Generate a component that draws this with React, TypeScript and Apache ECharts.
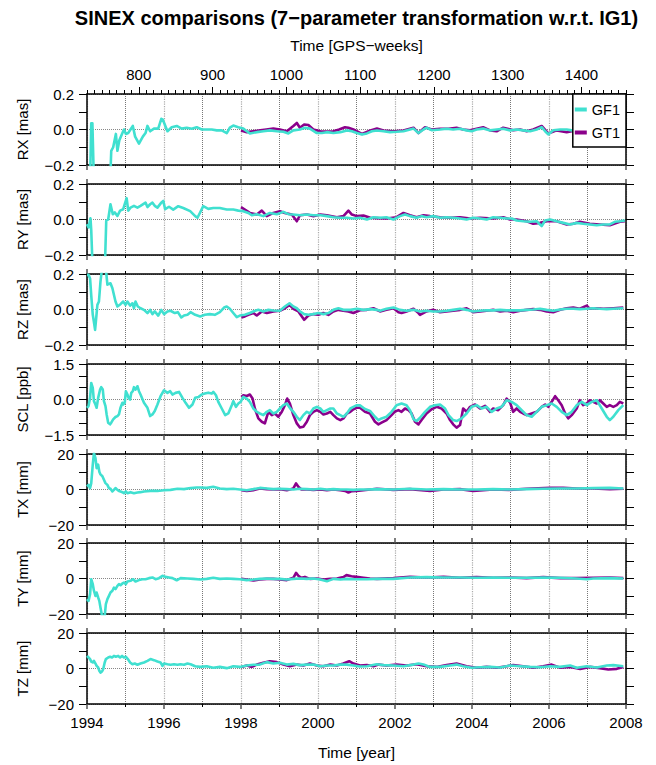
import React, { useEffect, useRef } from 'react';
import * as echarts from 'echarts';

// ---------------- data ----------------
const panelNames = ['RX [mas]', 'RY [mas]', 'RZ [mas]', 'SCL [ppb]', 'TX [mm]', 'TY [mm]', 'TZ [mm]'];
const yMins = [-0.2, -0.2, -0.2, -1.5, -20, -20, -20];
const yMaxs = [0.2, 0.2, 0.2, 1.5, 20, 20, 20];
const ySteps = [0.1, 0.1, 0.1, 0.5, 10, 10, 10];
const yLabelValues = [
  [-0.2, 0, 0.2], [-0.2, 0, 0.2], [-0.2, 0, 0.2], [-1.5, 0, 1.5], [-20, 0, 20], [-20, 0, 20], [-20, 0, 20],
];
const yDecimals = [1, 1, 1, 1, 0, 0, 0];
const yearMin = 1994;
const yearMax = 2008;
const gpsWeekMin = 729.857; // 1994-01-01
const gpsWeekMax = 1460.286; // 2008-01-01
const gpsLabelWeeks = [800, 900, 1000, 1100, 1200, 1300, 1400];
const gpsMinorWeeks: number[] = [];
for (let w = 730; w <= 1460; w += 10) gpsMinorWeeks.push(w);

const seriesNames = ['GF1', 'GT1'];

type P = [number, number][];

const rxGF1: P = [[1994.00,-0.30],[1994.08,-0.30],[1994.11,0.035],[1994.14,0.035],[1994.18,-0.30],[1994.60,-0.30],[1994.63,-0.12],[1994.68,-0.10],[1994.75,-0.025],[1994.79,-0.12],[1994.84,-0.06],[1994.92,-0.02],[1994.96,0.0],[1995.01,-0.025],[1995.07,-0.02],[1995.13,0.0],[1995.19,0.02],[1995.25,-0.04],[1995.35,-0.08],[1995.45,-0.04],[1995.52,-0.02],[1995.57,0.02],[1995.64,-0.01],[1995.74,0.005],[1995.85,0.005],[1995.93,0.06],[1995.97,0.055],[1996.09,-0.01],[1996.20,0.013],[1996.33,0.02],[1996.46,0.005],[1996.59,0.01],[1996.72,0.004],[1996.85,0.013],[1996.98,0.0],[1997.11,0.0],[1997.24,0.0],[1997.37,-0.005],[1997.50,-0.005],[1997.63,-0.02],[1997.71,0.01],[1997.80,0.022],[1997.93,0.013],[1998.06,0.005],[1998.15,-0.01],[1998.23,-0.022],[1998.41,-0.015],[1998.58,-0.01],[1998.75,-0.005],[1998.93,-0.01],[1999.10,-0.013],[1999.23,-0.022],[1999.36,-0.005],[1999.53,0.0],[1999.66,0.01],[1999.79,0.005],[1999.97,-0.02],[2000.10,-0.02],[2000.23,-0.015],[2000.40,-0.02],[2000.58,-0.015],[2000.75,-0.005],[2000.88,-0.01],[2001.01,-0.02],[2001.14,-0.028],[2001.27,-0.022],[2001.40,-0.01],[2001.53,-0.006],[2001.70,-0.01],[2001.87,-0.015],[2002.04,-0.013],[2002.22,-0.01],[2002.39,0.0],[2002.48,0.005],[2002.61,-0.02],[2002.74,0.0],[2002.82,0.01],[2002.95,-0.004],[2003.17,0.0],[2003.34,0.004],[2003.51,0.0],[2003.69,0.004],[2003.86,-0.005],[2003.99,-0.01],[2004.12,0.0],[2004.29,0.005],[2004.47,-0.005],[2004.64,0.0],[2004.81,0.004],[2004.99,-0.005],[2005.16,0.0],[2005.33,-0.005],[2005.51,-0.01],[2005.68,0.0],[2005.81,0.013],[2005.90,-0.01],[2005.98,-0.028],[2006.11,-0.004],[2006.29,0.0],[2006.46,0.0],[2006.59,-0.005],[2006.80,0.0],[2007.00,-0.005],[2007.30,0.0],[2007.60,0.0],[2008.00,0.0]];
const rxGT1: P = [[1998.00,-0.005],[1998.15,-0.015],[1998.32,-0.01],[1998.50,-0.005],[1998.66,0.0],[1998.84,0.005],[1999.01,0.0],[1999.19,-0.01],[1999.36,0.02],[1999.45,0.037],[1999.53,0.01],[1999.64,0.028],[1999.75,0.025],[1999.88,0.0],[2000.06,-0.01],[2000.23,-0.012],[2000.40,-0.01],[2000.55,0.0],[2000.70,0.013],[2000.79,0.01],[2000.92,0.0],[2001.14,-0.025],[2001.36,-0.005],[2001.53,0.005],[2001.70,-0.006],[2001.96,-0.01],[2002.22,-0.006],[2002.48,0.01],[2002.61,-0.02],[2002.78,0.013],[2002.95,0.0],[2003.17,0.004],[2003.39,0.004],[2003.60,0.01],[2003.77,0.0],[2003.95,-0.005],[2004.12,0.004],[2004.29,0.013],[2004.47,-0.005],[2004.64,-0.01],[2004.81,0.01],[2005.07,-0.004],[2005.25,0.0],[2005.42,-0.01],[2005.59,0.0],[2005.81,0.02],[2005.98,-0.022],[2006.20,-0.005],[2006.46,-0.015],[2006.59,-0.01],[2006.80,-0.005],[2007.00,0.0],[2007.30,-0.005],[2007.60,-0.005],[2008.00,0.0]];

const ryGF1: P = [[1994.00,-0.026],[1994.04,-0.045],[1994.09,0.007],[1994.11,-0.06],[1994.15,-0.30],[1994.46,-0.30],[1994.50,-0.007],[1994.55,0.0],[1994.61,0.086],[1994.67,0.03],[1994.72,0.04],[1994.79,0.02],[1994.86,0.05],[1994.94,0.058],[1994.98,0.086],[1995.03,0.12],[1995.07,0.05],[1995.13,0.067],[1995.22,0.077],[1995.31,0.067],[1995.39,0.077],[1995.52,0.095],[1995.57,0.07],[1995.64,0.086],[1995.70,0.095],[1995.76,0.077],[1995.83,0.067],[1995.93,0.095],[1995.98,0.105],[1996.03,0.058],[1996.13,0.072],[1996.24,0.056],[1996.37,0.075],[1996.50,0.065],[1996.68,0.047],[1996.81,0.019],[1996.87,0.01],[1997.02,0.075],[1997.15,0.06],[1997.28,0.065],[1997.45,0.065],[1997.63,0.056],[1997.80,0.056],[1997.93,0.05],[1998.06,0.047],[1998.19,0.037],[1998.28,0.024],[1998.41,0.03],[1998.58,0.019],[1998.75,0.037],[1998.93,0.03],[1999.10,0.043],[1999.23,0.03],[1999.36,0.028],[1999.53,0.024],[1999.71,0.028],[1999.88,0.024],[2000.06,0.024],[2000.23,0.019],[2000.40,0.013],[2000.58,0.01],[2000.75,0.01],[2000.92,0.006],[2001.09,0.01],[2001.27,0.0],[2001.44,0.013],[2001.61,0.01],[2001.78,0.013],[2001.96,0.0],[2002.13,0.019],[2002.26,0.028],[2002.39,0.019],[2002.56,0.01],[2002.69,0.019],[2002.82,0.013],[2002.99,0.019],[2003.17,0.01],[2003.34,0.013],[2003.51,0.01],[2003.69,0.006],[2003.86,0.0],[2004.03,0.01],[2004.21,0.006],[2004.38,0.0],[2004.55,0.013],[2004.73,0.01],[2004.90,0.006],[2005.03,0.006],[2005.16,-0.006],[2005.33,-0.01],[2005.51,-0.013],[2005.68,-0.01],[2005.81,-0.037],[2005.90,-0.006],[2006.03,0.0],[2006.20,-0.01],[2006.37,-0.019],[2006.55,-0.028],[2006.72,-0.019],[2006.89,-0.024],[2007.06,-0.028],[2007.24,-0.032],[2007.41,-0.028],[2007.58,-0.028],[2007.71,-0.013],[2007.84,-0.01],[2007.97,-0.006]];
const ryGT1: P = [[1998.00,0.07],[1998.10,0.056],[1998.23,0.037],[1998.41,0.028],[1998.54,0.05],[1998.67,0.019],[1998.84,0.037],[1999.01,0.047],[1999.14,0.037],[1999.32,0.028],[1999.45,-0.01],[1999.53,0.024],[1999.71,0.028],[1999.88,0.019],[2000.06,0.028],[2000.23,0.024],[2000.49,0.013],[2000.66,0.019],[2000.79,0.05],[2000.88,0.028],[2001.01,0.019],[2001.18,0.022],[2001.36,0.01],[2001.53,0.008],[2001.78,0.006],[2002.04,0.013],[2002.22,0.037],[2002.39,0.024],[2002.56,0.013],[2002.74,0.024],[2002.91,0.019],[2003.17,0.013],[2003.43,0.01],[2003.69,0.013],[2003.95,0.006],[2004.21,0.01],[2004.55,0.006],[2004.81,0.013],[2004.99,0.0],[2005.16,0.0],[2005.42,-0.01],[2005.59,-0.024],[2005.77,-0.019],[2005.94,-0.01],[2006.20,-0.01],[2006.46,-0.028],[2006.63,-0.024],[2006.80,-0.013],[2007.06,-0.024],[2007.32,-0.028],[2007.58,-0.032],[2007.84,-0.013],[2007.97,-0.01]];

const rzGF1: P = [[1994.00,0.195],[1994.04,0.195],[1994.08,0.175],[1994.11,0.08],[1994.15,-0.03],[1994.18,-0.07],[1994.21,-0.115],[1994.23,-0.07],[1994.27,0.026],[1994.31,0.045],[1994.35,0.157],[1994.40,0.25],[1994.48,0.25],[1994.53,0.14],[1994.61,0.148],[1994.66,0.12],[1994.74,0.045],[1994.79,0.017],[1994.87,0.03],[1994.94,0.045],[1995.00,0.026],[1995.05,0.045],[1995.12,0.022],[1995.18,0.035],[1995.22,0.007],[1995.26,0.045],[1995.32,0.017],[1995.39,0.007],[1995.48,-0.002],[1995.57,-0.02],[1995.64,-0.002],[1995.70,-0.026],[1995.76,-0.011],[1995.85,-0.034],[1995.93,-0.002],[1996.00,-0.026],[1996.09,-0.011],[1996.17,-0.007],[1996.28,-0.02],[1996.36,-0.015],[1996.45,-0.045],[1996.52,-0.034],[1996.61,-0.03],[1996.69,-0.015],[1996.81,-0.03],[1996.94,-0.039],[1997.06,-0.03],[1997.19,-0.026],[1997.32,-0.03],[1997.45,-0.015],[1997.56,0.011],[1997.63,0.017],[1997.71,0.004],[1997.80,-0.02],[1997.89,-0.043],[1997.97,-0.034],[1998.10,-0.03],[1998.23,-0.02],[1998.32,-0.011],[1998.45,-0.002],[1998.58,-0.011],[1998.71,-0.002],[1998.84,-0.006],[1999.01,-0.007],[1999.14,0.017],[1999.26,0.035],[1999.36,0.017],[1999.45,0.007],[1999.53,-0.011],[1999.64,-0.026],[1999.75,-0.03],[1999.88,-0.026],[2000.01,-0.02],[2000.14,-0.026],[2000.27,-0.02],[2000.40,-0.002],[2000.53,0.007],[2000.66,-0.002],[2000.84,-0.002],[2001.01,0.004],[2001.18,-0.002],[2001.36,0.002],[2001.53,-0.002],[2001.61,-0.007],[2001.78,0.004],[2001.96,0.011],[2002.13,-0.002],[2002.30,-0.007],[2002.48,-0.002],[2002.65,-0.011],[2002.82,-0.007],[2002.99,-0.011],[2003.17,-0.011],[2003.34,-0.007],[2003.51,-0.002],[2003.69,0.004],[2003.86,-0.002],[2004.03,-0.011],[2004.21,-0.007],[2004.38,-0.004],[2004.55,-0.005],[2004.73,-0.002],[2004.90,-0.005],[2005.07,-0.004],[2005.25,-0.005],[2005.42,-0.002],[2005.59,0.0],[2005.77,0.004],[2005.94,-0.002],[2006.11,-0.007],[2006.29,0.0],[2006.46,0.004],[2006.63,0.004],[2006.80,0.002],[2006.98,0.004],[2007.15,0.007],[2007.32,0.004],[2007.50,0.002],[2007.67,0.004],[2007.93,0.007]];
const rzGT1: P = [[1998.01,-0.045],[1998.10,-0.039],[1998.19,-0.03],[1998.32,-0.02],[1998.41,-0.034],[1998.54,-0.011],[1998.67,-0.02],[1998.84,-0.011],[1999.01,-0.007],[1999.14,0.007],[1999.26,0.026],[1999.36,0.004],[1999.49,-0.011],[1999.64,-0.058],[1999.75,-0.034],[1999.88,-0.026],[2000.01,-0.03],[2000.14,-0.02],[2000.27,-0.03],[2000.40,-0.011],[2000.53,-0.002],[2000.66,-0.007],[2000.79,-0.011],[2000.92,-0.02],[2001.09,-0.004],[2001.27,-0.002],[2001.44,0.007],[2001.61,-0.011],[2001.78,-0.002],[2001.96,0.007],[2002.09,-0.015],[2002.17,-0.02],[2002.30,-0.011],[2002.48,0.004],[2002.61,-0.02],[2002.65,-0.03],[2002.82,-0.011],[2002.99,-0.002],[2003.17,-0.015],[2003.34,-0.011],[2003.51,-0.007],[2003.69,-0.002],[2003.86,0.007],[2004.03,-0.015],[2004.21,-0.011],[2004.38,-0.007],[2004.55,-0.002],[2004.73,-0.011],[2004.90,-0.007],[2005.07,-0.015],[2005.25,-0.007],[2005.42,-0.002],[2005.59,0.002],[2005.77,-0.002],[2005.94,-0.011],[2006.11,-0.015],[2006.29,-0.002],[2006.46,0.007],[2006.63,0.011],[2006.80,0.004],[2006.98,0.022],[2007.06,0.004],[2007.24,0.007],[2007.41,0.004],[2007.67,0.007],[2007.93,0.011]];

const sclGF1: P = [[1994.00,-0.35],[1994.04,-0.28],[1994.08,0.07],[1994.11,0.70],[1994.15,0.49],[1994.18,-0.07],[1994.22,-0.21],[1994.25,-0.35],[1994.29,0.07],[1994.34,0.42],[1994.37,0.52],[1994.41,0.42],[1994.44,-0.07],[1994.48,-0.28],[1994.51,-0.63],[1994.55,-0.98],[1994.60,-1.05],[1994.63,-0.98],[1994.68,-0.84],[1994.74,-0.74],[1994.79,-0.70],[1994.83,-0.63],[1994.87,-0.35],[1994.92,-0.14],[1994.94,-0.21],[1994.98,-0.14],[1995.01,0.35],[1995.05,0.21],[1995.08,0.07],[1995.12,0.0],[1995.15,0.28],[1995.19,0.35],[1995.22,0.52],[1995.26,0.42],[1995.31,0.56],[1995.35,0.35],[1995.39,0.21],[1995.48,-0.14],[1995.57,-0.35],[1995.64,-0.70],[1995.70,-0.63],[1995.76,-0.49],[1995.83,-0.21],[1995.91,0.14],[1996.00,0.39],[1996.09,0.28],[1996.16,0.35],[1996.22,0.21],[1996.30,0.28],[1996.39,0.32],[1996.48,0.07],[1996.56,-0.14],[1996.65,-0.35],[1996.74,-0.21],[1996.81,0.07],[1996.90,0.11],[1996.98,0.21],[1997.06,0.25],[1997.15,0.29],[1997.24,0.25],[1997.28,0.32],[1997.35,0.18],[1997.41,-0.10],[1997.50,-0.38],[1997.59,-0.66],[1997.67,-0.59],[1997.76,-0.24],[1997.80,-0.07],[1997.87,-0.31],[1997.93,-0.17],[1997.99,-0.10],[1998.06,0.11],[1998.15,0.04],[1998.23,-0.10],[1998.32,-0.38],[1998.41,-0.52],[1998.49,-0.59],[1998.58,-0.66],[1998.67,-0.52],[1998.75,-0.45],[1998.84,-0.59],[1998.93,-0.52],[1999.01,-0.38],[1999.10,-0.24],[1999.19,-0.17],[1999.28,-0.38],[1999.36,-0.52],[1999.45,-0.73],[1999.53,-0.87],[1999.62,-0.66],[1999.71,-0.52],[1999.79,-0.59],[1999.88,-0.38],[1999.97,-0.31],[2000.06,-0.38],[2000.14,-0.52],[2000.23,-0.45],[2000.32,-0.38],[2000.40,-0.38],[2000.49,-0.59],[2000.58,-0.66],[2000.66,-0.73],[2000.75,-0.59],[2000.84,-0.38],[2000.92,-0.31],[2001.01,-0.24],[2001.09,-0.25],[2001.22,-0.40],[2001.35,-0.48],[2001.48,-0.73],[2001.57,-0.87],[2001.65,-0.80],[2001.78,-0.73],[2001.91,-0.52],[2002.04,-0.24],[2002.17,-0.17],[2002.30,-0.24],[2002.39,-0.45],[2002.48,-0.83],[2002.56,-0.91],[2002.65,-0.77],[2002.78,-0.52],[2002.91,-0.31],[2003.04,-0.24],[2003.17,-0.21],[2003.30,-0.38],[2003.39,-0.66],[2003.51,-0.87],[2003.60,-0.91],[2003.73,-0.80],[2003.86,-0.59],[2003.99,-0.31],[2004.12,-0.24],[2004.25,-0.38],[2004.38,-0.31],[2004.51,-0.52],[2004.64,-0.38],[2004.77,-0.31],[2004.90,-0.03],[2005.03,-0.10],[2005.16,-0.24],[2005.29,-0.45],[2005.42,-0.66],[2005.55,-0.73],[2005.68,-0.52],[2005.81,-0.31],[2005.94,-0.24],[2006.07,-0.17],[2006.20,-0.31],[2006.33,-0.52],[2006.46,-0.66],[2006.59,-0.52],[2006.72,-0.24],[2006.85,-0.10],[2006.98,-0.24],[2007.11,-0.10],[2007.24,-0.03],[2007.37,-0.38],[2007.50,-0.73],[2007.58,-0.87],[2007.67,-0.73],[2007.80,-0.45],[2007.93,-0.24]];
const sclGT1: P = [[1998.01,0.11],[1998.06,0.18],[1998.15,0.15],[1998.23,0.21],[1998.30,0.04],[1998.36,-0.38],[1998.45,-0.80],[1998.54,-0.94],[1998.62,-1.01],[1998.71,-0.52],[1998.80,-0.66],[1998.88,-0.59],[1998.97,-0.73],[1999.06,-0.52],[1999.14,-0.24],[1999.20,0.04],[1999.27,-0.17],[1999.36,-0.66],[1999.45,-1.01],[1999.53,-1.18],[1999.62,-1.15],[1999.71,-0.94],[1999.79,-0.66],[1999.88,-0.52],[1999.97,-0.45],[2000.06,-0.52],[2000.14,-0.63],[2000.23,-0.59],[2000.32,-0.52],[2000.40,-0.66],[2000.49,-0.80],[2000.58,-0.87],[2000.66,-0.80],[2000.75,-0.59],[2000.84,-0.52],[2000.92,-0.41],[2001.01,-0.35],[2001.09,-0.35],[2001.22,-0.52],[2001.35,-0.59],[2001.48,-0.94],[2001.57,-1.05],[2001.65,-0.98],[2001.78,-0.87],[2001.91,-0.66],[2001.99,-0.52],[2002.09,-0.45],[2002.17,-0.52],[2002.26,-0.38],[2002.35,-0.45],[2002.43,-0.59],[2002.52,-0.94],[2002.61,-1.05],[2002.69,-0.87],[2002.82,-0.59],[2002.95,-0.41],[2003.08,-0.31],[2003.21,-0.38],[2003.34,-0.59],[2003.43,-0.87],[2003.51,-1.05],[2003.60,-1.19],[2003.69,-1.08],[2003.77,-0.38],[2003.86,-0.52],[2003.95,-0.31],[2004.08,-0.21],[2004.21,-0.38],[2004.34,-0.27],[2004.47,-0.52],[2004.55,-0.38],[2004.68,-0.45],[2004.81,-0.24],[2004.90,0.04],[2004.99,-0.13],[2005.07,-0.52],[2005.16,-0.38],[2005.25,-0.52],[2005.33,-0.59],[2005.42,-0.66],[2005.55,-0.59],[2005.68,-0.52],[2005.81,-0.31],[2005.90,-0.21],[2005.98,-0.31],[2006.07,-0.10],[2006.16,0.14],[2006.24,-0.03],[2006.33,-0.24],[2006.42,-0.59],[2006.50,-0.80],[2006.59,-0.66],[2006.72,-0.38],[2006.80,-0.03],[2006.89,-0.24],[2006.98,-0.17],[2007.06,-0.03],[2007.15,-0.10],[2007.24,-0.17],[2007.32,-0.03],[2007.41,-0.17],[2007.50,-0.31],[2007.58,-0.24],[2007.67,-0.31],[2007.76,-0.24],[2007.84,-0.10],[2007.93,-0.17]];

const txGF1: P = [[1994.00,1.7],[1994.04,2.6],[1994.08,0.8],[1994.11,3.6],[1994.15,14],[1994.18,20.5],[1994.22,17.7],[1994.25,12],[1994.29,14],[1994.32,10],[1994.35,8.5],[1994.40,7.5],[1994.44,5.5],[1994.48,3.6],[1994.53,2.6],[1994.57,0.8],[1994.61,0.4],[1994.66,-1.1],[1994.70,-0.2],[1994.74,0.8],[1994.79,-0.2],[1994.83,-0.8],[1994.87,-1.1],[1994.92,-1.5],[1994.96,-2.1],[1995.01,-1.1],[1995.05,-2.1],[1995.13,-1.5],[1995.22,-2.1],[1995.31,-1.7],[1995.39,-1.5],[1995.48,-1.1],[1995.65,-0.8],[1995.83,-0.8],[1996.00,-0.4],[1996.17,-0.2],[1996.35,0.4],[1996.52,0.2],[1996.69,0.8],[1996.85,1.1],[1996.94,1.1],[1997.11,0.9],[1997.28,1.5],[1997.45,0.6],[1997.63,0.2],[1997.80,0.4],[1997.97,0.0],[1998.15,-0.4],[1998.32,0.2],[1998.49,0.9],[1998.67,0.6],[1998.84,0.2],[1999.01,0.4],[1999.19,0.2],[1999.36,0.0],[1999.53,0.4],[1999.71,0.2],[1999.88,0.0],[2000.06,0.4],[2000.23,0.0],[2000.40,0.2],[2000.58,0.0],[2000.75,0.0],[2000.92,-0.2],[2001.09,0.0],[2001.27,0.0],[2001.52,0.2],[2001.96,0.0],[2002.39,0.4],[2002.82,0.0],[2003.26,0.2],[2003.69,0.0],[2004.12,0.0],[2004.55,0.2],[2004.99,0.0],[2005.42,0.2],[2005.85,0.4],[2006.29,0.6],[2006.72,0.6],[2007.15,0.8],[2007.58,0.9],[2007.93,0.6]];
const txGT1: P = [[1998.01,-0.4],[1998.15,-0.8],[1998.32,-0.4],[1998.49,0.6],[1998.67,0.2],[1998.84,0.0],[1999.01,0.2],[1999.19,-0.4],[1999.36,0.6],[1999.43,3.4],[1999.49,1.5],[1999.57,0.0],[1999.71,0.0],[1999.88,-0.2],[2000.06,0.0],[2000.23,-0.4],[2000.40,0.0],[2000.58,-0.4],[2000.70,-0.8],[2000.79,-1.7],[2000.88,-0.9],[2001.00,-0.8],[2001.18,-0.4],[2001.36,0.0],[2001.53,0.4],[2001.96,-0.2],[2002.39,0.2],[2002.91,-0.8],[2003.26,0.0],[2003.69,0.2],[2004.03,-0.8],[2004.55,0.0],[2004.99,-0.2],[2005.42,0.4],[2006.03,0.9],[2006.37,0.9],[2006.72,0.6],[2007.15,0.6],[2007.58,0.2],[2007.93,0.4]];

const tyGF1: P = [[1994.00,-11.6],[1994.04,-12.6],[1994.08,-8.8],[1994.11,-0.4],[1994.15,-3.2],[1994.18,-6.9],[1994.22,-9.8],[1994.25,-7.9],[1994.29,-10.7],[1994.32,-12.6],[1994.35,-16.3],[1994.39,-21],[1994.46,-21],[1994.49,-14.4],[1994.53,-11.6],[1994.57,-9.8],[1994.61,-7.9],[1994.66,-6.9],[1994.70,-5.1],[1994.74,-6.0],[1994.79,-4.1],[1994.83,-3.2],[1994.87,-3.8],[1994.92,-2.8],[1994.96,-2.3],[1995.01,-3.2],[1995.05,-1.7],[1995.13,-1.3],[1995.20,-0.4],[1995.26,-1.7],[1995.35,-0.9],[1995.44,-0.4],[1995.52,-0.4],[1995.61,0.2],[1995.70,0.6],[1995.78,-0.4],[1995.87,0.2],[1995.96,1.5],[1996.04,0.9],[1996.13,0.6],[1996.22,0.2],[1996.33,-1.0],[1996.43,0.2],[1996.61,0.0],[1996.76,-0.2],[1996.94,-0.6],[1997.11,-0.2],[1997.28,0.4],[1997.45,-0.2],[1997.63,0.0],[1997.80,-0.2],[1997.97,-0.4],[1998.15,-0.9],[1998.32,-0.6],[1998.49,-0.2],[1998.67,0.0],[1998.84,-0.2],[1999.01,-0.2],[1999.19,-0.6],[1999.36,-0.2],[1999.53,0.0],[1999.71,-0.2],[1999.88,0.0],[2000.06,-0.6],[2000.23,-1.5],[2000.40,-0.2],[2000.58,-0.6],[2000.75,-0.2],[2000.92,-0.4],[2001.09,-0.4],[2001.27,-0.4],[2001.52,-0.2],[2001.96,-0.2],[2002.39,0.6],[2002.82,0.8],[2003.26,0.6],[2003.69,0.6],[2004.12,0.4],[2004.55,0.6],[2004.99,0.4],[2005.42,0.4],[2005.85,0.6],[2006.29,0.4],[2006.72,0.0],[2006.98,-0.4],[2007.15,0.0],[2007.58,0.2],[2007.93,0.0]];
const tyGT1: P = [[1998.01,-0.2],[1998.15,-0.6],[1998.32,-1.1],[1998.49,-0.6],[1998.67,-0.2],[1998.84,-0.2],[1999.01,-0.6],[1999.19,-0.9],[1999.36,0.4],[1999.43,3.2],[1999.50,1.3],[1999.57,0.4],[1999.66,0.9],[1999.79,-0.2],[1999.97,0.0],[2000.14,-0.6],[2000.32,-0.2],[2000.49,0.0],[2000.66,0.8],[2000.74,1.9],[2000.87,1.3],[2001.00,0.9],[2001.18,0.4],[2001.35,0.0],[2001.53,-0.2],[2001.96,0.2],[2002.39,0.9],[2002.82,0.6],[2003.26,0.9],[2003.69,0.4],[2004.12,0.8],[2004.55,0.4],[2004.99,0.6],[2005.42,0.2],[2005.85,0.8],[2006.29,0.2],[2006.72,0.2],[2007.15,0.4],[2007.58,0.6],[2007.93,0.2]];

const tzGF1: P = [[1994.00,7.1],[1994.04,6.2],[1994.08,5.3],[1994.11,3.9],[1994.15,3.4],[1994.18,4.3],[1994.22,2.8],[1994.25,1.5],[1994.29,0.6],[1994.32,-1.3],[1994.35,-2.3],[1994.39,-1.7],[1994.42,-0.4],[1994.46,3.4],[1994.49,5.3],[1994.55,6.2],[1994.60,6.6],[1994.65,6.2],[1994.70,7.1],[1994.75,6.6],[1994.81,7.1],[1994.86,6.2],[1994.91,7.1],[1994.96,6.2],[1995.01,6.6],[1995.06,5.3],[1995.12,3.4],[1995.18,2.4],[1995.24,2.8],[1995.31,2.1],[1995.39,2.8],[1995.48,3.4],[1995.57,4.3],[1995.65,5.3],[1995.74,4.7],[1995.83,3.9],[1995.91,3.4],[1995.96,1.5],[1996.00,2.8],[1996.09,2.4],[1996.17,2.1],[1996.26,2.4],[1996.35,2.1],[1996.43,2.4],[1996.52,2.1],[1996.61,2.8],[1996.69,2.4],[1996.81,1.3],[1996.94,0.9],[1997.11,1.3],[1997.28,0.4],[1997.45,0.9],[1997.63,0.2],[1997.80,1.3],[1997.97,0.9],[1998.15,1.7],[1998.32,2.1],[1998.49,2.2],[1998.67,3.6],[1998.84,2.8],[1999.01,3.2],[1999.19,2.2],[1999.36,2.6],[1999.53,1.9],[1999.71,2.2],[1999.88,2.2],[2000.06,1.3],[2000.23,1.7],[2000.40,1.7],[2000.58,2.2],[2000.75,2.2],[2000.92,1.7],[2001.09,1.1],[2001.27,1.3],[2001.52,2.4],[2001.70,1.9],[2001.96,1.7],[2002.22,1.3],[2002.48,2.2],[2002.61,2.8],[2002.74,2.2],[2002.91,0.9],[2003.17,0.9],[2003.43,1.7],[2003.60,2.2],[2003.77,1.3],[2003.99,0.4],[2004.21,0.7],[2004.47,0.9],[2004.73,0.6],[2004.99,1.7],[2005.25,1.3],[2005.51,0.9],[2005.77,0.7],[2006.03,1.3],[2006.29,0.9],[2006.55,1.7],[2006.72,0.4],[2006.98,1.3],[2007.24,0.6],[2007.50,1.7],[2007.67,1.9],[2007.93,1.3]];
const tzGT1: P = [[1998.01,0.9],[1998.15,1.7],[1998.28,0.9],[1998.41,2.2],[1998.58,3.2],[1998.75,4.1],[1998.93,3.6],[1999.10,2.2],[1999.27,1.3],[1999.45,2.2],[1999.62,1.7],[1999.79,2.8],[1999.97,1.7],[2000.14,1.3],[2000.32,2.2],[2000.49,1.7],[2000.66,2.8],[2000.81,4.1],[2000.92,2.8],[2001.09,1.7],[2001.27,2.0],[2001.44,1.3],[2001.57,2.2],[2001.78,1.7],[2002.04,2.2],[2002.30,1.7],[2002.56,2.4],[2002.82,1.3],[2003.08,0.9],[2003.34,2.0],[2003.60,2.8],[2003.86,1.3],[2004.12,0.4],[2004.38,0.9],[2004.64,0.4],[2004.90,1.3],[2005.07,1.9],[2005.33,1.3],[2005.59,0.4],[2005.85,1.3],[2006.07,2.2],[2006.29,0.4],[2006.55,0.9],[2006.81,-0.2],[2007.06,0.9],[2007.32,0.2],[2007.54,-0.6],[2007.76,-0.2],[2007.93,0.9]];

const gf1Series = [rxGF1, ryGF1, rzGF1, sclGF1, txGF1, tyGF1, tzGF1];
const gt1Series = [rxGT1, ryGT1, rzGT1, sclGT1, txGT1, tyGT1, tzGT1];

// ---------------- layout / style ----------------
const FONT = '"Liberation Sans", Arial, Helvetica, sans-serif';
const GF1_COLOR = '#40E0D0';
const GT1_COLOR = '#8B008B';
const GRID_LEFT = 87;
const GRID_WIDTH = 539;
const GRID_H = 71;
const GRID_TOPS = [94, 184, 274, 364, 454, 543, 633];
const frameLine = { color: '#000', width: 1.5 };
const TICK_FONT = 15;

function fmtY(i: number) {
  return (v: number) => {
    const ok = yLabelValues[i].some((l) => Math.abs(l - v) < 1e-6);
    if (!ok) return '';
    const s = Math.abs(v) < 1e-9 ? (0).toFixed(yDecimals[i]) : v.toFixed(yDecimals[i]);
    return s.replace('-', '\u2212');
  };
}
const fmtPlain = (v: number) => String(Math.round(v));

function buildOption() {
  const grid: any[] = [];
  const xAxis: any[] = [];
  const yAxis: any[] = [];
  const series: any[] = [];

  const yearAxis = (gi: number, pos: 'top' | 'bottom', showLabel: boolean) => ({
    gridIndex: gi,
    type: 'value',
    position: pos,
    min: yearMin,
    max: yearMax,
    interval: 2,
    axisLine: { show: true, onZero: false, lineStyle: frameLine },
    axisTick: { show: true, inside: false, length: 5, lineStyle: { color: '#555', width: 1.5 } },
    minorTick: { show: true, splitNumber: 2, length: 3, lineStyle: { color: '#000', width: 1 } },
    axisLabel: { show: showLabel, formatter: fmtPlain, fontSize: TICK_FONT, margin: 11, color: '#000', fontFamily: FONT },
    splitLine: { show: pos === 'bottom', lineStyle: { type: 'dotted', color: '#aaa', width: 1.2 } },
    minorSplitLine: { show: pos === 'bottom', lineStyle: { type: 'dotted', color: '#777', width: 1 } },
  });

  for (let i = 0; i < 7; i++) {
    grid.push({ left: GRID_LEFT, top: GRID_TOPS[i], width: GRID_WIDTH, height: GRID_H });
    const bottomIdx = xAxis.length;
    xAxis.push(yearAxis(i, 'bottom', i === 6));
    if (i > 0) xAxis.push(yearAxis(i, 'top', false));

    const leftIdx = yAxis.length;
    yAxis.push({
      gridIndex: i,
      type: 'value',
      position: 'left',
      min: yMins[i],
      max: yMaxs[i],
      interval: ySteps[i],
      axisLine: { show: true, onZero: false, lineStyle: frameLine },
      axisTick: { show: true, inside: false, length: 8, lineStyle: { color: '#000', width: 1 } },
      axisLabel: { show: true, formatter: fmtY(i), fontSize: TICK_FONT, margin: 13, color: '#000', fontFamily: FONT },
      splitLine: { show: false },
      name: panelNames[i],
      nameLocation: 'middle',
      nameGap: 57,
      nameTextStyle: { fontSize: 15, color: '#000', fontFamily: FONT },
    });
    yAxis.push({
      gridIndex: i,
      type: 'value',
      position: 'right',
      min: yMins[i],
      max: yMaxs[i],
      interval: ySteps[i],
      axisLine: { show: true, onZero: false, lineStyle: frameLine },
      axisTick: { show: true, inside: false, length: 8, lineStyle: { color: '#000', width: 1 } },
      axisLabel: { show: false },
      splitLine: { show: false },
    });
    // zero reference line
    yAxis.push({
      gridIndex: i,
      type: 'value',
      min: yMins[i],
      max: yMaxs[i],
      interval: yMaxs[i],
      axisLine: { show: false },
      axisTick: { show: false },
      axisLabel: { show: false },
      splitLine: { show: true, lineStyle: { type: 'dotted', color: '#888', width: 1 } },
    });

    series.push({
      type: 'line',
      name: 'GT1',
      xAxisIndex: bottomIdx,
      yAxisIndex: leftIdx,
      data: gt1Series[i],
      showSymbol: false,
      symbol: 'none',
      clip: true,
      z: 3,
      lineStyle: { color: GT1_COLOR, width: 2.6, join: 'round' },
      itemStyle: { color: GT1_COLOR },
    });
    series.push({
      type: 'line',
      name: 'GF1',
      xAxisIndex: bottomIdx,
      yAxisIndex: leftIdx,
      data: gf1Series[i],
      showSymbol: false,
      symbol: 'none',
      clip: true,
      z: 4,
      lineStyle: { color: GF1_COLOR, width: 2.6, join: 'round' },
      itemStyle: { color: GF1_COLOR },
    });
  }

  // GPS-week axes on top of panel 1 (separate overlaid grids)
  for (let k = 0; k < 2; k++) {
    const gi = grid.length;
    grid.push({ left: GRID_LEFT, top: GRID_TOPS[0], width: GRID_WIDTH, height: GRID_H });
    const major = k === 1;
    xAxis.push({
      gridIndex: gi,
      type: 'value',
      position: 'top',
      min: gpsWeekMin,
      max: gpsWeekMax,
      axisLine: { show: !major, onZero: false, lineStyle: frameLine },
      axisTick: {
        show: true,
        inside: false,
        length: major ? 7 : 4,
        customValues: major ? gpsLabelWeeks : gpsMinorWeeks,
        lineStyle: { color: '#000', width: 1 },
      },
      axisLabel: {
        show: major,
        customValues: gpsLabelWeeks,
        formatter: fmtPlain,
        fontSize: TICK_FONT,
        margin: 12,
        color: '#000',
        fontFamily: FONT,
      },
      splitLine: { show: false },
    });
    yAxis.push({ gridIndex: gi, type: 'value', show: false, min: 0, max: 1 });
  }

  return {
    animation: false,
    backgroundColor: '#fff',
    textStyle: { fontFamily: FONT },
    grid,
    xAxis,
    yAxis,
    series,
    legend: {
      data: seriesNames,
      orient: 'vertical',
      right: 30,
      top: 94,
      backgroundColor: '#fff',
      borderColor: '#000',
      borderWidth: 1.5,
      borderRadius: 0,
      padding: [8, 6, 7, 2],
      itemGap: 8,
      itemWidth: 12,
      itemHeight: 4,
      itemTextGap: 4,
      icon: 'rect',
      textStyle: { fontSize: 14.5, color: '#000', fontFamily: FONT },
      z: 10,
    },
    graphic: [
      {
        type: 'text',
        x: 356.5,
        y: 18,
        style: {
          text: 'SINEX comparisons (7\u2212parameter transformation w.r.t. IG1)',
          fontSize: 20,
          fontWeight: 'bold',
          fontFamily: FONT,
          fill: '#000',
          align: 'center',
          verticalAlign: 'middle',
        },
      },
      {
        type: 'text',
        x: 356.5,
        y: 45,
        style: {
          text: 'Time [GPS\u2212weeks]',
          fontSize: 15.5,
          fontFamily: FONT,
          fill: '#000',
          align: 'center',
          verticalAlign: 'middle',
        },
      },
      {
        type: 'text',
        x: 356.5,
        y: 752,
        style: {
          text: 'Time [year]',
          fontSize: 15.5,
          fontFamily: FONT,
          fill: '#000',
          align: 'center',
          verticalAlign: 'middle',
        },
      },
    ],
  };
}

export default function App() {
  const ref = useRef<HTMLDivElement>(null);
  useEffect(() => {
    if (!ref.current) return;
    const chart = echarts.init(ref.current, undefined, { renderer: 'svg' });
    chart.setOption(buildOption() as any);
    return () => chart.dispose();
  }, []);
  return (
    <div
      ref={ref}
      style={{ position: 'absolute', left: 0, top: 0, width: 656, height: 765, background: '#fff' }}
    />
  );
}
